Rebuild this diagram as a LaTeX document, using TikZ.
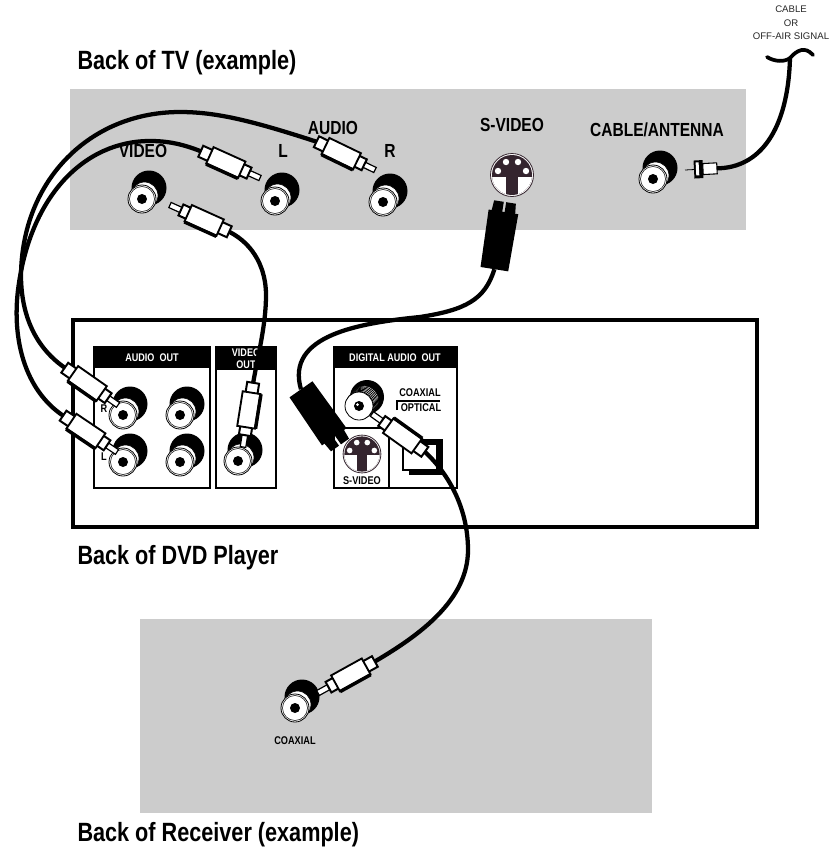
\documentclass[tikz,border=0pt]{standalone}
\usepackage{fontspec}
\setmainfont{Liberation Sans}
\newfontfamily\narrowfont[FakeStretch=0.82]{Liberation Sans}

\definecolor{panelgray}{RGB}{204,204,204}
\definecolor{svdark}{RGB}{52,36,46}

\tikzset{
  every picture/.style={line width=0.75pt},
  every pic/.style={yscale=-1},
  cable/.style={draw=black,line width=3.2pt},
  titlelabel/.style={inner sep=0pt,anchor=west,font=\narrowfont\bfseries\fontsize{19.8}{22}\selectfont},
  tvlabel/.style={inner sep=0pt,font=\narrowfont\bfseries\fontsize{14.2}{16}\selectfont},
  smalllabel/.style={inner sep=0pt,font=\narrowfont\bfseries\fontsize{8.4}{10}\selectfont},
  headlabel/.style={inner sep=0pt,text=white,font=\narrowfont\bfseries\fontsize{8.3}{9}\selectfont},
  jackpic/.pic={
    \fill [black] (7,-11) circle (17.5);
    \draw [fill=white,line width=0.5pt] (2.5,-3.5) circle (13.5);
    \draw [fill=white,line width=0.6pt] (0,0) circle (14);
    \draw [line width=0.4pt] (0,0) circle (12.5);
    \fill [black] (0,0) circle (5);
  },
  stripedjack/.pic={
    \fill [black] (8,-9) circle (17);
    \foreach \off in {5.5,4.5,3.5,2.5,1.5,0.5} {
      \draw [fill=white,line width=0.6pt] (\off,-\off*1.1) circle (14);
    }
    \draw [fill=white,line width=0.6pt] (0,0) circle (14);
    \fill [black] (0,0) circle (5);
    \fill [white] (-1.5,-1.5) circle (1.5);
  },
  svideosock/.pic={
    \draw [fill=white,draw=svdark,line width=0.6pt] (0,0) circle (21.5);
    \fill [svdark] (0,0) circle (20);
    \begin{scope}
      \clip (0,0) circle (20);
      \fill [white] (-25,1.5) rectangle (-6,25);
      \fill [white] (6,1.5) rectangle (25,25);
    \end{scope}
    \foreach \dx/\dy in {-14/-4,14/-4,-6/-13,6/-13} {
      \fill [white] (\dx,\dy) circle (3.2);
    }
  },
  pics/rcaplug/.style={code={
    \coordinate (-tail) at (65,0);
    \draw [fill=white,line width=0.9pt] (0,-2.8) -- (13,-2.8) -- (13,2.8) -- (0,2.8) -- cycle;
    \draw [fill=white,line width=1.5pt] (12,-6) -- (22,-6) -- (22,6) -- (12,6) -- cycle;
    \draw [fill=white,line width=1.5pt] (54,-6) -- (65,-6) -- (65,6) -- (54,6) -- cycle;
    \draw [fill=white,line width=1.4pt] (20,-9) -- (55,-9) -- (55,9) -- (20,9) -- cycle;
    \draw [line width=2.6pt] (20,#1*9.5) -- (55,#1*9.5);
  }},
  pics/splug/.style={code={
    \coordinate (-tail) at (68,0);
    \fill [black] (0,1.2) -- (11,1.2) -- (11,12) -- (0,11) -- cycle;
    \fill [black] (0,-1.2) -- (11,-1.2) -- (11,-12) -- (0,-11) -- cycle;
    \fill [black] (10,-15) -- (68,-14) -- (68,14) -- (10,15) -- cycle;
  }},
  pics/fplug/.style={code={
    \coordinate (-tail) at (32,0);
    \draw [line width=0.6pt] (0,0) -- (9,0);
    \fill [black] (9,-9) rectangle (18,9);
    \fill [white] (11,-7) rectangle (14,6);
    \draw [fill=white,line width=0.8pt] (18,-5.5) -- (32,-5.5) -- (32,5.5) -- (18,5.5) -- cycle;
  }},
}

\begin{document}
\begin{tikzpicture}[x=0.75pt,y=0.75pt,yscale=-1]
\useasboundingbox (0,0) rectangle (835,851);

% panels
\fill [panelgray] (70,89) rectangle (746,230);
\fill [panelgray] (140,619) rectangle (652,813);
\draw [line width=3pt] (73,320) rectangle (757,527);

\draw [line width=1.2pt] (94,347) rectangle (210,488);
\draw [line width=1.2pt] (216,347) rectangle (276,488);
\draw [line width=1.2pt] (334,347) rectangle (457,488);
\fill [black] (94,347) rectangle (210,368);
\fill [black] (216,347) rectangle (276,370);
\fill [black] (334,347) rectangle (457,368);
\draw [line width=1pt] (334,428) -- (389,428);
\draw [line width=1pt] (389,428) -- (389,488);
\fill [black] (409,439) rectangle (443,475);
\draw [fill=white,line width=0.8pt] (403,444) rectangle (437,470);
\draw [line width=0.9pt] (397,410) -- (397,401) -- (440,401);

% text
\node [titlelabel] (tvtitle) at (77,63) {Back of TV (example)};
\node [titlelabel] (dvdtitle) at (77,558) {Back of DVD Player};
\node [titlelabel] (rectitle) at (77,835) {Back of Receiver (example)};
\node [tvlabel] (tvvideo) at (143,151) {VIDEO};
\node [tvlabel] (tvaudio) at (333,128) {AUDIO};
\node [tvlabel] (tvl) at (283,151) {L};
\node [tvlabel] (tvr) at (390,151) {R};
\node [tvlabel] (tvsvideo) at (512,125) {S-VIDEO};
\node [tvlabel] (tvcable) at (657,130) {CABLE/ANTENNA};
\node [align=center,inner sep=0pt,text=black!85,font=\fontsize{7.2}{10}\selectfont] (signal) at (791,23) {CABLE\\OR\\OFF-AIR SIGNAL};
\node [smalllabel] (reccoax) at (295,741) {COAXIAL};
\node [headlabel] (headaudio) at (152,358) {AUDIO\ \ OUT};
\node [headlabel,align=center] (headvideo) at (246,359) {VIDEO\\OUT};
\node [headlabel] (headdigital) at (395,358) {DIGITAL AUDIO\ \ OUT};
\node [smalllabel] (dvdcoax) at (420,393) {COAXIAL};
\node [smalllabel] (dvdopt) at (421,408) {OPTICAL};
\node [smalllabel] (dvdsv) at (362,481) {S-VIDEO};
\node [smalllabel] (dvdr) at (104,409) {R};
\node [smalllabel] (dvdl) at (104,457) {L};

% jacks
\pic at (142,199) {jackpic};
\pic at (275,201) {jackpic};
\pic at (383,202) {jackpic};
\pic at (653,179) {jackpic};
\pic at (123,415) {jackpic};
\pic at (180,415) {jackpic};
\pic at (123,462) {jackpic};
\pic at (180,462) {jackpic};
\pic at (238,461) {jackpic};
\pic at (359,406) {stripedjack};
\pic at (295,708) {jackpic};
\pic at (512,175) {svideosock};
\pic [scale=0.88] at (362,454) {svideosock};

% plugs
\pic (tvaudl) [rotate=-204.3] at (260,178) {rcaplug=-1};
\pic (tvaudr) [rotate=-205.8] at (375,170) {rcaplug=-1};
\pic (tvvid) [rotate=-24.3] at (170,205) {rcaplug=1};
\pic (dvdaudr) [rotate=-215] at (118,405) {rcaplug=-1};
\pic (dvdaudl) [rotate=-214] at (117,452) {rcaplug=-1};
\pic (dvdvid) [rotate=81] at (243,447) {rcaplug=1};
\pic (dvdcoaxp) [rotate=-35.6] at (372,414) {rcaplug=-1};
\pic (recplug) [rotate=29] at (318,693) {rcaplug=1};
\pic (tvsv) [rotate=-99] at (505,202) {splug};
\pic (dvdsvp) [rotate=-235] at (340,445) {splug};
\pic (antplug) [rotate=3] at (685,170) {fplug};

% cables
\coordinate (wirejoin) at (790,58);
\draw [cable] (tvaudr-tail) .. controls (250,120) and (215,112) .. (180,112) .. controls (90,112) and (22,180) .. (21,275) .. controls (21,310) and (32,345) .. (dvdaudr-tail);
\draw [cable] (tvaudl-tail) .. controls (180,143) and (165,141) .. (150,141) .. controls (85,141) and (30,195) .. (18,290) .. controls (12,340) and (25,390) .. (dvdaudl-tail);
\draw [cable] (tvvid-tail) .. controls (255,245) and (266,270) .. (266,295) .. controls (266,325) and (258,355) .. (dvdvid-tail);
\draw [cable] (tvsv-tail) .. controls (485,300) and (465,310) .. (420,317) .. controls (360,323) and (285,335) .. (dvdsvp-tail);
\draw [cable] (dvdcoaxp-tail) .. controls (450,475) and (468,510) .. (468,550) .. controls (468,600) and (420,635) .. (recplug-tail);
\draw [cable] (antplug-tail) .. controls (760,168) and (788,130) .. (wirejoin);
\draw [cable,line width=2.8pt,line cap=round] (767,57) .. controls (775,62) and (785,62) .. (wirejoin) .. controls (797,50) and (805,46) .. (813,55);

\end{tikzpicture}
\end{document}
